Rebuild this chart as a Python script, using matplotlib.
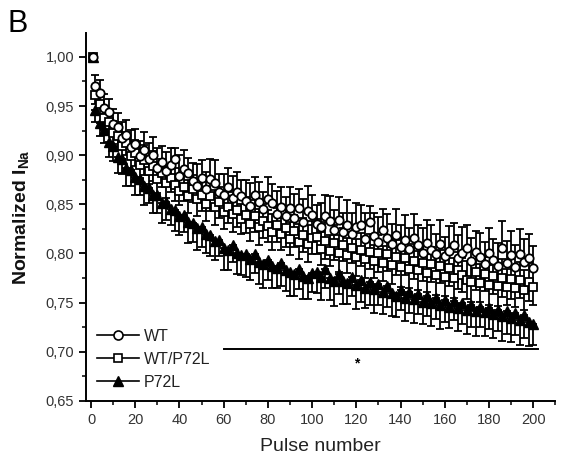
import numpy as np
import matplotlib
matplotlib.use("Agg")
import matplotlib.pyplot as plt
from matplotlib.ticker import MultipleLocator, FuncFormatter

plt.rcParams['font.family'] = ['Liberation Sans', 'DejaVu Sans']

# pulse numbers (1, then every 2nd pulse)
pulses = np.r_[1, np.arange(2, 201, 2)]

wt = [1.000, 0.970, 0.963, 0.948, 0.944, 0.932,
      0.929, 0.917, 0.921, 0.908, 0.911,
      0.899, 0.905, 0.896, 0.900, 0.887,
      0.893, 0.884, 0.890, 0.896, 0.879,
      0.886, 0.882, 0.874, 0.869, 0.877,
      0.866, 0.876, 0.872, 0.863, 0.860,
      0.868, 0.856, 0.863, 0.858, 0.853,
      0.848, 0.859, 0.852, 0.845, 0.855,
      0.851, 0.840, 0.847, 0.838, 0.846,
      0.836, 0.846, 0.832, 0.843, 0.839,
      0.830, 0.827, 0.838, 0.833, 0.824,
      0.834, 0.822, 0.829, 0.820, 0.827,
      0.829, 0.815, 0.832, 0.818, 0.812,
      0.824, 0.816, 0.810, 0.819, 0.807,
      0.814, 0.805, 0.816, 0.809, 0.800,
      0.811, 0.804, 0.799, 0.810, 0.797,
      0.803, 0.809, 0.795, 0.801, 0.806,
      0.792, 0.802, 0.796, 0.789, 0.800,
      0.793, 0.787, 0.806, 0.790, 0.798,
      0.786, 0.799, 0.791, 0.795, 0.785]
wt_err = [0.000, 0.012, 0.013, 0.014, 0.013, 0.015,
          0.014, 0.017, 0.015, 0.018, 0.016,
          0.015, 0.019, 0.016, 0.018, 0.020,
          0.016, 0.019, 0.017, 0.011, 0.021,
          0.019, 0.015, 0.018, 0.022, 0.018,
          0.017, 0.020, 0.023, 0.018, 0.021,
          0.019, 0.023, 0.020, 0.017, 0.022,
          0.024, 0.019, 0.021, 0.018, 0.023,
          0.020, 0.024, 0.021, 0.019, 0.022,
          0.025, 0.020, 0.023, 0.026, 0.021,
          0.019, 0.024, 0.021, 0.025, 0.020,
          0.023, 0.019, 0.025, 0.021, 0.024,
          0.020, 0.026, 0.016, 0.023, 0.025,
          0.021, 0.024, 0.020, 0.026, 0.022,
          0.025, 0.021, 0.024, 0.020, 0.026,
          0.023, 0.025, 0.021, 0.024, 0.020,
          0.025, 0.022, 0.024, 0.026, 0.023,
          0.024, 0.021, 0.025, 0.023, 0.026,
          0.022, 0.024, 0.027, 0.023, 0.025,
          0.023, 0.026, 0.024, 0.025, 0.023]

mix = [1.000, 0.961, 0.952, 0.938, 0.934, 0.923,
       0.920, 0.909, 0.912, 0.899, 0.902,
       0.890, 0.895, 0.884, 0.889, 0.876,
       0.882, 0.872, 0.877, 0.870, 0.864,
       0.868, 0.858, 0.866, 0.855, 0.859,
       0.850, 0.858, 0.847, 0.852, 0.842,
       0.847, 0.840, 0.844, 0.835, 0.839,
       0.830, 0.838, 0.827, 0.833, 0.828,
       0.822, 0.829, 0.820, 0.826, 0.815,
       0.823, 0.812, 0.819, 0.810, 0.816,
       0.817, 0.805, 0.813, 0.803, 0.811,
       0.800, 0.809, 0.798, 0.806, 0.796,
       0.804, 0.794, 0.802, 0.792, 0.800,
       0.790, 0.799, 0.788, 0.796, 0.786,
       0.795, 0.784, 0.792, 0.783, 0.790,
       0.780, 0.789, 0.778, 0.787, 0.776,
       0.785, 0.775, 0.783, 0.778, 0.773,
       0.771, 0.781, 0.770, 0.779, 0.768,
       0.777, 0.767, 0.775, 0.766, 0.774,
       0.765, 0.773, 0.763, 0.771, 0.766]
mix_err = [0.000, 0.009, 0.010, 0.011, 0.011, 0.012,
           0.012, 0.013, 0.012, 0.014, 0.013,
           0.013, 0.015, 0.013, 0.015, 0.014,
           0.014, 0.016, 0.014, 0.017, 0.015,
           0.015, 0.017, 0.014, 0.017, 0.016,
           0.017, 0.015, 0.018, 0.016, 0.017,
           0.016, 0.018, 0.017, 0.015, 0.018,
           0.017, 0.016, 0.018, 0.017, 0.016,
           0.018, 0.017, 0.016, 0.019, 0.017,
           0.016, 0.018, 0.017, 0.019, 0.017,
           0.018, 0.017, 0.019, 0.016, 0.018,
           0.019, 0.017, 0.018, 0.016, 0.019,
           0.017, 0.019, 0.018, 0.017, 0.019,
           0.018, 0.017, 0.019, 0.018, 0.020,
           0.017, 0.019, 0.018, 0.020, 0.018,
           0.019, 0.018, 0.020, 0.017, 0.019,
           0.018, 0.020, 0.019, 0.017, 0.019,
           0.020, 0.018, 0.019, 0.017, 0.020,
           0.018, 0.020, 0.019, 0.018, 0.020,
           0.019, 0.018, 0.020, 0.019, 0.018]

p72l = [1.000, 0.946, 0.933, 0.926, 0.913, 0.909,
        0.898, 0.896, 0.887, 0.885, 0.878,
        0.876, 0.869, 0.867, 0.860, 0.859,
        0.851, 0.852, 0.845, 0.844, 0.838,
        0.839, 0.832, 0.831, 0.826, 0.827,
        0.820, 0.819, 0.813, 0.814, 0.806,
        0.804, 0.809, 0.801, 0.798, 0.799,
        0.794, 0.799, 0.791, 0.789, 0.793,
        0.787, 0.785, 0.790, 0.783, 0.781,
        0.779, 0.784, 0.777, 0.775, 0.780,
        0.781, 0.776, 0.784, 0.775, 0.772,
        0.779, 0.772, 0.770, 0.776, 0.768,
        0.773, 0.765, 0.771, 0.764, 0.769,
        0.761, 0.767, 0.760, 0.757, 0.763,
        0.755, 0.761, 0.754, 0.759, 0.751,
        0.757, 0.750, 0.755, 0.748, 0.753,
        0.746, 0.752, 0.745, 0.750, 0.743,
        0.748, 0.741, 0.746, 0.740, 0.745,
        0.738, 0.743, 0.736, 0.741, 0.734,
        0.739, 0.732, 0.737, 0.730, 0.728]
p72l_err = [0.000, 0.012, 0.013, 0.014, 0.015, 0.015,
            0.016, 0.015, 0.018, 0.016, 0.019,
            0.017, 0.020, 0.016, 0.019, 0.018,
            0.020, 0.018, 0.016, 0.021, 0.019,
            0.017, 0.021, 0.019, 0.022, 0.020,
            0.019, 0.022, 0.020, 0.017, 0.023,
            0.021, 0.018, 0.022, 0.020, 0.023,
            0.021, 0.019, 0.022, 0.024, 0.020,
            0.022, 0.020, 0.023, 0.021, 0.024,
            0.022, 0.020, 0.023, 0.021, 0.019,
            0.021, 0.023, 0.019, 0.022, 0.025,
            0.020, 0.023, 0.021, 0.019, 0.024,
            0.022, 0.020, 0.023, 0.025, 0.021,
            0.023, 0.021, 0.024, 0.022, 0.020,
            0.024, 0.022, 0.025, 0.021, 0.023,
            0.021, 0.024, 0.022, 0.025, 0.023,
            0.022, 0.020, 0.024, 0.022, 0.025,
            0.023, 0.025, 0.021, 0.024, 0.022,
            0.024, 0.022, 0.025, 0.023, 0.024,
            0.022, 0.025, 0.023, 0.024, 0.021]

sig_start, sig_end, sig_level = 60, 202, 0.7025
star_x, star_y = 120, 0.688

wt = np.array(wt); wt_err = np.array(wt_err)
mix = np.array(mix); mix_err = np.array(mix_err)
p72l = np.array(p72l); p72l_err = np.array(p72l_err)
zero = np.zeros_like(wt)

fig = plt.figure(figsize=(5.62, 4.63), dpi=100)
ax = fig.add_axes([0.153, 0.134, 0.835, 0.795])

ebkw = dict(ecolor='black', elinewidth=1.3, capsize=3.0, capthick=1.3, linestyle='none')

ax.errorbar(pulses, p72l, yerr=[p72l_err, zero], fmt='^', ms=7, mfc='black', mec='black',
            zorder=2, **ebkw)
ax.errorbar(pulses, mix, yerr=[mix_err, mix_err], fmt='s', ms=5.5, mfc='white', mec='black',
            mew=1.3, zorder=3, **ebkw)
ax.errorbar(pulses, wt, yerr=[zero, wt_err], fmt='o', ms=6, mfc='white', mec='black',
            mew=1.3, zorder=4, **ebkw)

# significance bar
ax.plot([sig_start, sig_end], [sig_level, sig_level], color='black', lw=1.4)
ax.text(star_x, star_y, '*', ha='center', va='center', fontsize=10, fontweight='bold')

# legend: line + marker
h1, = ax.plot([], [], '-o', color='black', mfc='white', ms=6.5, lw=1.2, mew=1.2)
h2, = ax.plot([], [], '-s', color='black', mfc='white', ms=6, lw=1.2, mew=1.2)
h3, = ax.plot([], [], '-^', color='black', mfc='black', ms=7, lw=1.2)
leg = ax.legend([h1, h2, h3], ['WT', 'WT/P72L', 'P72L'], loc='lower left',
                bbox_to_anchor=(0.0, 0.0), frameon=False, fontsize=11.5,
                handlelength=2.6, handletextpad=0.3, labelspacing=0.5,
                borderaxespad=0.3)
for t in leg.get_texts():
    t.set_color('#222222')

ax.set_xlim(-2.3, 210)
ax.set_ylim(0.65, 1.0244)
ax.xaxis.set_major_locator(MultipleLocator(20))
ax.xaxis.set_minor_locator(MultipleLocator(10))
ax.yaxis.set_major_locator(MultipleLocator(0.05))
ax.yaxis.set_minor_locator(MultipleLocator(0.025))
ax.yaxis.set_major_formatter(FuncFormatter(lambda v, p: f'{v:.2f}'.replace('.', ',')))

for s in ['top', 'right']:
    ax.spines[s].set_visible(False)
for s in ['left', 'bottom']:
    ax.spines[s].set_linewidth(1.4)

ax.tick_params(which='major', direction='out', length=5, width=1.3,
               labelsize=10.5, labelcolor='#333333')
ax.tick_params(which='minor', direction='out', length=3, width=1.1)

ax.set_xlabel('Pulse number', fontsize=14, color='#222222', labelpad=8)
ax.set_ylabel('Normalized I$_{\\mathregular{Na}}$', fontsize=14, color='#111111',
              labelpad=10, fontweight='bold')

fig.text(0.014, 0.93, 'B', fontsize=22, color='black')

fig.savefig('out.png', dpi=100)
